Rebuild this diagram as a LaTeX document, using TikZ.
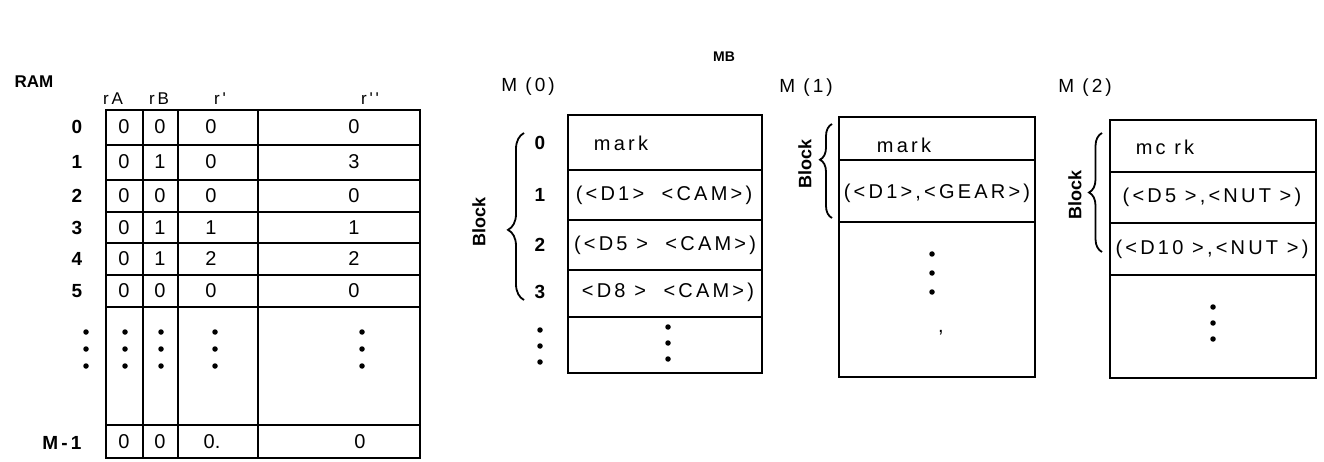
\documentclass[tikz,border=0pt]{standalone}
\usepackage{fontspec}
\setmainfont{Liberation Sans}
\newfontfamily\spaced[LetterSpace=16]{Liberation Sans}
\usetikzlibrary{decorations.pathreplacing}
\begin{document}
\begin{tikzpicture}[x=1pt,y=-1pt,
  frame/.style={line width=2.6pt},
  txt/.style={font=\spaced\fontsize{20}{20}\selectfont, inner sep=0pt},
  val/.style={font=\fontsize{20}{20}\selectfont, inner sep=0pt},
  rowlab/.style={font=\bfseries\fontsize{19}{19}\selectfont, inner sep=0pt},
  hdr/.style={font=\spaced\fontsize{17}{17}\selectfont, inner sep=0pt},
  title/.style={font=\spaced\fontsize{19}{19}\selectfont, inner sep=0pt},
  blk/.style={font=\bfseries\fontsize{18}{18}\selectfont, inner sep=0pt, rotate=90},
  vdot/.style={circle, fill, inner sep=0pt, minimum size=5.5pt},
  bbrace/.style={decorate, line width=1.8pt}]
\useasboundingbox (0,0) rectangle (1324,462);

% ---------------- RAM table ----------------
\node[font=\bfseries\fontsize{17}{17}\selectfont, inner sep=0pt] (ram) at (34,82) {RAM};
\node[font=\bfseries\fontsize{14}{14}\selectfont, inner sep=0pt] (mb) at (724,57) {MB};

\draw[frame] (106,110) rectangle (420,458);
\foreach \x in {143,178,258} \draw[frame] (\x,110) -- (\x,458);
\foreach \y in {145,180,212,243,275,307,425} \draw[frame] (106,\y) -- (420,\y);

\node[hdr] (hA) at (113,99) {rA};
\node[hdr] (hB) at (159,99) {rB};
\node[hdr] (h1) at (220,99) {r'};
\node[hdr] (h2) at (370,99) {r''};

\foreach \i/\y/\a/\b/\c/\d in {0/127/0/0/0/0, 1/162/0/1/0/3, 2/196/0/0/0/0, 3/228/0/1/1/1, 4/259/0/1/2/2, 5/291/0/0/0/0}{
  \node[rowlab] (l\i) at (77,\y) {\i};
  \node[val] (a\i) at (124,\y) {\a};
  \node[val] (b\i) at (160,\y) {\b};
  \node[val] (c\i) at (211,\y) {\c};
  \node[val] (d\i) at (354,\y) {\d};
}
\node[rowlab] (lM) at (62,443) {M\,-\,1};
\node[val] (aM) at (124,442) {0};
\node[val] (bM) at (160,442) {0};
\node[val] (cM) at (212,442) {0.};
\node[val] (dM) at (360,442) {0};

\foreach \x/\n in {86/l,125/a,161/b,215/c,362/d}{
  \node[vdot] (\n dot1) at (\x,332) {};
  \node[vdot] (\n dot2) at (\x,349) {};
  \node[vdot] (\n dot3) at (\x,366) {};
}

% ---------------- M(0) ----------------
\node[title] (m0) at (528,87) {M (0)};
\draw[frame] (568,115) rectangle (762,373);
\foreach \y in {170,220,270,317} \draw[frame] (568,\y) -- (762,\y);
\node[txt] (m0r0) at (621,143) {mark};
\node[txt] (m0r1) at (664,195) {(<D1>\ \ <CAM>)};
\node[txt] (m0r2) at (665,245) {(<D5 >\ \ <CAM>)};
\node[txt] (m0r3) at (668,292) {<D8 >\ \ <CAM>)};
\foreach \i/\y in {0/143,1/195,2/245,3/292} \node[rowlab] (m0l\i) at (540,\y) {\i};
\foreach \y/\k in {330/1,346/2,362/3}{
  \node[vdot] (m0ld\k) at (540,\y) {};
  \node[vdot] (m0d\k) at (668,\y-3) {};
}
\coordinate (m0bb) at (524,300);
\coordinate (m0bt) at (524,133);
\draw[bbrace, decoration={brace, amplitude=16pt, aspect=0.42}] (m0bb) -- (m0bt);
\node[blk] (m0blk) at (479,222) {Block};

% ---------------- M(1) ----------------
\node[title] (m1) at (806,88) {M (1)};
\draw[frame] (839,117) rectangle (1035,377);
\foreach \y in {160,222} \draw[frame] (839,\y) -- (1035,\y);
\node[txt] (m1r0) at (904,145) {mark};
\node[txt] (m1r1) at (937,193) {(<D1>,<GEAR>)};
\foreach \y/\k in {254/1,273/2,292/3} \node[vdot] (m1d\k) at (932,\y) {};
\node[val] (m1c) at (941,333) {,};
\coordinate (m1bb) at (832,218);
\coordinate (m1bt) at (832,124);
\draw[bbrace, decoration={brace, amplitude=12pt, aspect=0.62}] (m1bb) -- (m1bt);
\node[blk] (m1blk) at (805,164) {Block};

% ---------------- M(2) ----------------
\node[title] (m2) at (1085,88) {M (2)};
\draw[frame] (1110,120) rectangle (1316,378);
\foreach \y in {172,223,275} \draw[frame] (1110,\y) -- (1316,\y);
\node[txt] (m2r0) at (1165,147) {mc rk};
\node[txt] (m2r1) at (1212,197) {(<D5 >,<NUT >)};
\node[txt] (m2r2) at (1212,249) {(<D10 >,<NUT >)};
\foreach \y/\k in {307/1,323/2,339/3} \node[vdot] (m2d\k) at (1213,\y) {};
\coordinate (m2bb) at (1102,252);
\coordinate (m2bt) at (1102,133);
\draw[bbrace, decoration={brace, amplitude=13pt, aspect=0.5}] (m2bb) -- (m2bt);
\node[blk] (m2blk) at (1075,195) {Block};
\end{tikzpicture}
\end{document}
